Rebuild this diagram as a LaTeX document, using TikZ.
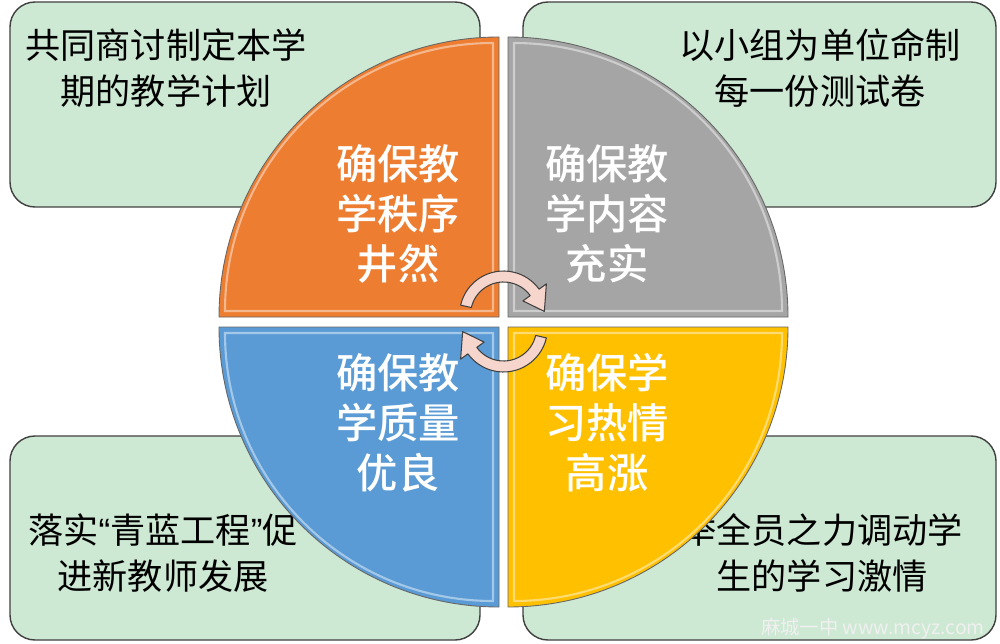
\documentclass[tikz,border=0pt]{standalone}
\usepackage{fontspec}
\setmainfont{Noto Sans CJK SC}
\newfontfamily\medfont{Noto Sans CJK SC Medium}
\newfontfamily\quotefont{Liberation Sans}

\definecolor{boxgreen}{HTML}{CDE8D3}
\definecolor{boxline}{HTML}{404040}
\definecolor{qorange}{HTML}{ED7D31}
\definecolor{qgray}{HTML}{A5A5A5}
\definecolor{qblue}{HTML}{5B9BD5}
\definecolor{qyellow}{HTML}{FFC000}
\definecolor{arrowpink}{HTML}{F6D5CC}

\tikzset{
  goalbox/.style={draw=boxline, fill=boxgreen, line width=0.8pt, rounded corners=0.5cm},
  boxtext/.style={align=center, font=\fontsize{20}{26.5}\selectfont},
  quarter/.style={draw=boxline!80, line width=0.5pt},
  bevel/.style={draw=white, draw opacity=0.45, line width=1.2pt},
  quartertext/.style={align=center, text=white, font=\fontsize{23.5}{28.5}\selectfont\medfont},
  turnarrow/.style={draw=boxline, fill=arrowpink, line width=0.6pt, line join=round},
  pics/turn/.style={code={
    \draw[turnarrow] (167:44) arc[start angle=167, end angle=36, radius=44]
      -- (36:53) -- (5:41) -- (36:24) -- (36:33)
      arc[start angle=36, end angle=167, radius=33] -- cycle;
  }},
}

\begin{document}
\begin{tikzpicture}[x=0.02cm, y=0.02cm]
  \useasboundingbox (0,0) rectangle (1000,643);

  % corner boxes
  \draw[goalbox] (10,436) rectangle (480,641);
  \draw[goalbox] (523,436) rectangle (996,641);
  \draw[goalbox] (10,3) rectangle (480,207);
  \draw[goalbox] (523,3) rectangle (996,207);
  \node[boxtext] (plan) at (166,575) {共同商讨制定本学\\期的教学计划};
  \node[boxtext] (paper) at (820,575) {以小组为单位命制\\每一份测试卷};
  \node[boxtext] (mentor) at (163,90) {落实{\quotefont “}青蓝工程{\quotefont ”}促\\进新教师发展};
  \node[boxtext] (passion) at (822,90) {举全员之力调动学\\生的学习激情};

  % quarters
  \filldraw[quarter, fill=qorange] (499,326) -- (219,326) arc[start angle=180, end angle=90, radius=280] -- cycle;
  \filldraw[quarter, fill=qgray] (508,326) -- (508,606) arc[start angle=90, end angle=0, radius=280] -- cycle;
  \filldraw[quarter, fill=qblue] (499,316) -- (499,36) arc[start angle=270, end angle=180, radius=280] -- cycle;
  \filldraw[quarter, fill=qyellow] (508,316) -- (788,316) arc[start angle=0, end angle=-90, radius=280] -- cycle;
  \draw[bevel] (493,332) -- (225,332) arc[start angle=180, end angle=90, radius=268] -- cycle;
  \draw[bevel] (514,332) -- (514,600) arc[start angle=90, end angle=0, radius=268] -- cycle;
  \draw[bevel] (493,310) -- (493,42) arc[start angle=270, end angle=180, radius=268] -- cycle;
  \draw[bevel] (514,310) -- (782,310) arc[start angle=0, end angle=-90, radius=268] -- cycle;

  \node[quartertext] (order) at (398,429) {确保教\\学秩序\\井然};
  \node[quartertext] (content) at (607,429) {确保教\\学内容\\充实};
  \node[quartertext] (quality) at (398,220) {确保教\\学质量\\优良};
  \node[quartertext] (interest) at (607,220) {确保学\\习热情\\高涨};

  % cycle arrows
  \pic (upturn) at (503.5,328) {turn};
  \pic[rotate=180] (downturn) at (503.5,315) {turn};

  \node[anchor=west, text=white!88!gray, font=\fontsize{11}{13}\selectfont] (mark) at (755,14) {麻城一中 www.mcyz.com};
\end{tikzpicture}
\end{document}
